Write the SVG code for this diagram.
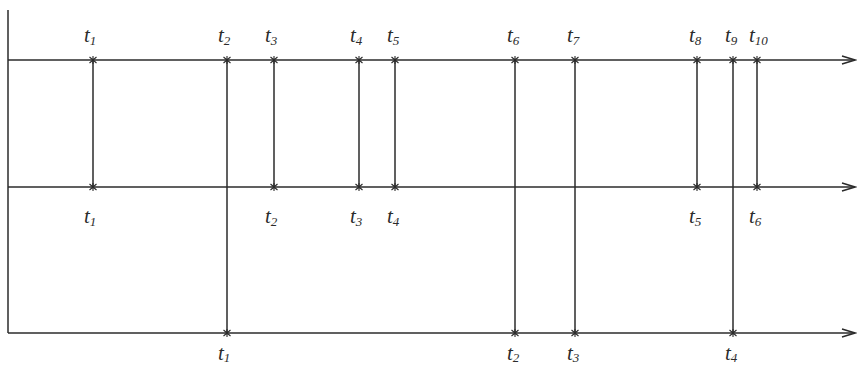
<svg xmlns="http://www.w3.org/2000/svg" width="859" height="368" viewBox="0 0 859 368">
<style>
.ln{stroke:#2b2b2b;stroke-width:1.5;fill:none}
.lb{font-family:"Liberation Serif",serif;font-style:italic;font-size:21px;fill:#2b2b2b}
.sb{font-size:13px}
</style>
<defs>
<marker id="ar" markerWidth="16" markerHeight="10" refX="14" refY="5" orient="auto" markerUnits="userSpaceOnUse">
<path d="M1,1 L14,5 L1,9" stroke="#2b2b2b" stroke-width="1.5" fill="none"/>
</marker>
<g id="st"><path d="M-3.5,-3 L3.5,3 M-3.5,3 L3.5,-3 M0,-4 L0,4" stroke="#2b2b2b" stroke-width="1.1"/></g>
</defs>
<rect width="859" height="368" fill="#fff"/>
<g id="axes">
<line class="ln" x1="8" y1="10" x2="8" y2="333"/>
<line class="ln" x1="8" y1="60" x2="855" y2="60" marker-end="url(#ar)"/>
<line class="ln" x1="8" y1="187" x2="855" y2="187" marker-end="url(#ar)"/>
<line class="ln" x1="8" y1="333" x2="855" y2="333" marker-end="url(#ar)"/>
</g>
<g id="connectors">
<line class="ln" x1="93" y1="60" x2="93" y2="187"/>
<line class="ln" x1="227" y1="60" x2="227" y2="333"/>
<line class="ln" x1="274" y1="60" x2="274" y2="187"/>
<line class="ln" x1="359" y1="60" x2="359" y2="187"/>
<line class="ln" x1="395" y1="60" x2="395" y2="187"/>
<line class="ln" x1="515" y1="60" x2="515" y2="333"/>
<line class="ln" x1="575" y1="60" x2="575" y2="333"/>
<line class="ln" x1="697" y1="60" x2="697" y2="187"/>
<line class="ln" x1="733" y1="60" x2="733" y2="333"/>
<line class="ln" x1="757" y1="60" x2="757" y2="187"/>
</g>
<g id="stars">
<use href="#st" x="93" y="60"/><use href="#st" x="227" y="60"/><use href="#st" x="274" y="60"/><use href="#st" x="359" y="60"/><use href="#st" x="395" y="60"/><use href="#st" x="515" y="60"/><use href="#st" x="575" y="60"/><use href="#st" x="697" y="60"/><use href="#st" x="733" y="60"/><use href="#st" x="757" y="60"/>
<use href="#st" x="93" y="187"/><use href="#st" x="274" y="187"/><use href="#st" x="359" y="187"/><use href="#st" x="395" y="187"/><use href="#st" x="697" y="187"/><use href="#st" x="757" y="187"/>
<use href="#st" x="227" y="333"/><use href="#st" x="515" y="333"/><use href="#st" x="575" y="333"/><use href="#st" x="733" y="333"/>
</g>
<g id="top-labels" class="lb">
<text x="84" y="42">t<tspan class="sb" dy="3">1</tspan></text>
<text x="218" y="42">t<tspan class="sb" dy="3">2</tspan></text>
<text x="265" y="42">t<tspan class="sb" dy="3">3</tspan></text>
<text x="350" y="42">t<tspan class="sb" dy="3">4</tspan></text>
<text x="387" y="42">t<tspan class="sb" dy="3">5</tspan></text>
<text x="507" y="42">t<tspan class="sb" dy="3">6</tspan></text>
<text x="567" y="42">t<tspan class="sb" dy="3">7</tspan></text>
<text x="689" y="42">t<tspan class="sb" dy="3">8</tspan></text>
<text x="725" y="42">t<tspan class="sb" dy="3">9</tspan></text>
<text x="749" y="42">t<tspan class="sb" dy="3">10</tspan></text>
</g>
<g id="mid-labels" class="lb">
<text x="84" y="223">t<tspan class="sb" dy="3">1</tspan></text>
<text x="265" y="223">t<tspan class="sb" dy="3">2</tspan></text>
<text x="350" y="223">t<tspan class="sb" dy="3">3</tspan></text>
<text x="387" y="223">t<tspan class="sb" dy="3">4</tspan></text>
<text x="689" y="223">t<tspan class="sb" dy="3">5</tspan></text>
<text x="749" y="223">t<tspan class="sb" dy="3">6</tspan></text>
</g>
<g id="bot-labels" class="lb">
<text x="218" y="360">t<tspan class="sb" dy="2">1</tspan></text>
<text x="507" y="360">t<tspan class="sb" dy="2">2</tspan></text>
<text x="567" y="360">t<tspan class="sb" dy="2">3</tspan></text>
<text x="725" y="360">t<tspan class="sb" dy="2">4</tspan></text>
</g>
</svg>
